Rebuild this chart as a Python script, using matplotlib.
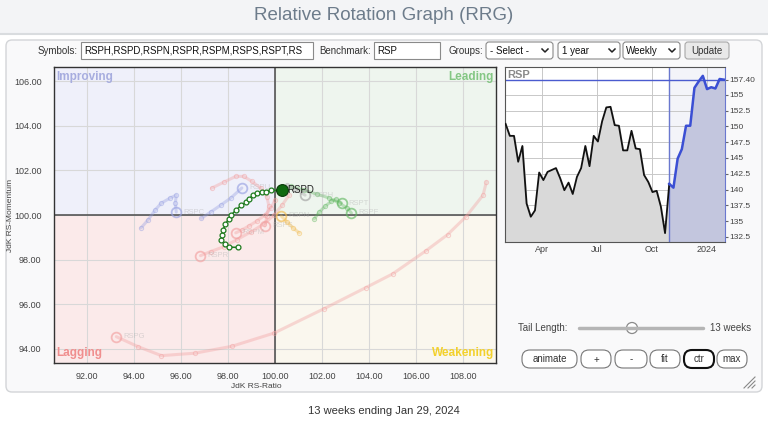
import matplotlib
matplotlib.use("Agg")
import matplotlib.pyplot as plt
import matplotlib.patches as mpatches
import numpy as np
import pandas as pd

plt.rcParams['font.family'] = ['Liberation Sans', 'DejaVu Sans']

# ---- data ----
# highlighted tail (RSPD), oldest -> newest
rspd_x = [98.42, 98.06, 97.86, 97.72, 97.74, 97.79, 97.89, 98.03, 98.13, 98.34,
          98.57, 98.75, 98.89, 99.07, 99.24, 99.43, 99.60, 99.82, 100.29]
rspd_y = [98.55, 98.56, 98.71, 98.89, 99.11, 99.33, 99.59, 99.82, 99.99, 100.22,
          100.43, 100.56, 100.70, 100.90, 100.98, 101.01, 101.05, 101.10, 101.10]

# faded tails of the other symbols
rspg_x = [108.99, 108.85, 108.12, 107.34, 106.41, 105.00, 103.85, 102.10, 99.96, 98.17, 96.60, 95.17, 94.18, 93.25]
rspg_y = [101.48, 100.89, 99.92, 99.12, 98.39, 97.36, 96.74, 95.81, 94.71, 94.12, 93.81, 93.70, 94.10, 94.55]
rspc_x = [94.30, 94.60, 94.90, 95.16, 95.54, 95.80, 95.76, 95.80]
rspc_y = [99.42, 99.78, 100.22, 100.53, 100.76, 100.89, 100.53, 100.13]
rspu_x = [96.87, 97.26, 97.69, 98.12, 98.59]
rspu_y = [99.85, 100.13, 100.44, 100.76, 101.21]
rsps_x = [97.30, 97.82, 98.33, 98.67, 99.01, 99.40, 99.66, 99.74, 99.66, 99.57]
rsps_y = [101.20, 101.47, 101.73, 101.73, 101.51, 101.20, 100.80, 100.40, 99.96, 99.51]
rspm_x = [100.00, 99.83, 99.57, 99.23, 98.89, 98.59, 98.33]
rspm_y = [100.67, 100.31, 100.00, 99.73, 99.51, 99.33, 99.20]
rspr_x = [100.60, 100.30, 99.96, 99.53, 98.97, 98.37, 97.82, 97.26, 96.83]
rspr_y = [100.89, 100.44, 100.00, 99.60, 99.24, 98.89, 98.58, 98.36, 98.18]
rspn_x = [101.03, 100.77, 100.51, 100.26]
rspn_y = [99.20, 99.42, 99.69, 99.96]
rspt_x = [101.67, 101.88, 102.14, 102.40, 102.61, 102.83]
rspt_y = [99.82, 100.13, 100.40, 100.62, 100.71, 100.53]
rspf_x = [100.69, 101.24, 101.80, 102.31, 102.74, 103.08, 103.25]
rspf_y = [101.29, 101.11, 100.93, 100.76, 100.53, 100.31, 100.09]
rsph_x = [100.51, 100.86, 101.28]
rsph_y = [101.33, 101.16, 100.89]

# benchmark RSP weekly closes
rsp_start = "2023-01-30"
rsp_close = [150.4, 148.5, 148.5, 144.4, 146.9, 137.8, 135.7, 136.7, 142.7, 141.5,
             142.8, 143.1, 143.4, 141.8, 139.9, 141.1, 139.3, 142.0, 143.4, 146.9,
             143.7, 148.5, 147.6, 150.8, 153.0, 153.1, 150.2, 150.1, 146.2, 146.2,
             149.3, 146.5, 146.4, 142.3, 141.2, 139.6, 139.8, 137.3, 133.1, 140.9,
             140.3, 144.9, 146.4, 150.1, 150.1, 156.1, 157.1, 158.0, 155.9, 156.2,
             156.0, 157.5, 157.4]
tail_weeks = 13
last_close_label = "157.40"

x_ticks = [92, 94, 96, 98, 100, 102, 104, 106, 108]
y_ticks = [94, 96, 98, 100, 102, 104, 106]
price_ticks = [132.5, 135, 137.5, 140, 142.5, 145, 147.5, 150, 152.5, 155]

# ---- figure ----
W, H = 768, 423
fig = plt.figure(figsize=(W / 100, H / 100), dpi=100)
fig.patch.set_facecolor('white')

bg = fig.add_axes([0, 0, 1, 1], zorder=0)
bg.set_xlim(0, W)
bg.set_ylim(H, 0)
bg.axis('off')

# header + panel
bg.add_patch(mpatches.Rectangle((0, 0), W, 34, facecolor='#f3f4f6', edgecolor='none'))
bg.plot([0, W], [34, 34], color='#d9dcdf', lw=1.5)
bg.add_patch(mpatches.FancyBboxPatch((6, 40), W - 12, 352, boxstyle="round,pad=0,rounding_size=6",
                                     facecolor='#f9f9fa', edgecolor='#d3d5d8', lw=1))
bg.text(384, 15, "Relative Rotation Graph (RRG)", ha='center', va='center',
        fontsize=13.5, color='#6d7c8b')

# controls row
def box(x0, x1, face='white', edge='#8a8a8a', round_=False, y0=42, h=17, lw=0.8):
    if round_:
        bg.add_patch(mpatches.FancyBboxPatch((x0, y0), x1 - x0, h, boxstyle="round,pad=0,rounding_size=3",
                                             facecolor=face, edgecolor=edge, lw=lw))
    else:
        bg.add_patch(mpatches.Rectangle((x0, y0), x1 - x0, h, facecolor=face, edgecolor=edge, lw=lw))

def chevron(xc, yc):
    bg.plot([xc - 3, xc, xc + 3], [yc - 1.5, yc + 1.5, yc - 1.5], color='#222', lw=1.1)

row_y = 50.5
bg.text(78, row_y, "Symbols:", ha='right', va='center', fontsize=7, color='#333')
box(81, 313)
bg.text(84, row_y, "RSPH,RSPD,RSPN,RSPR,RSPM,RSPS,RSPT,RS", ha='left', va='center', fontsize=7, color='#111')
bg.text(371, row_y, "Benchmark:", ha='right', va='center', fontsize=7, color='#333')
box(374, 440)
bg.text(377, row_y, "RSP", ha='left', va='center', fontsize=7, color='#111')
bg.text(483, row_y, "Groups:", ha='right', va='center', fontsize=7, color='#333')
box(486, 553, round_=True)
bg.text(490, row_y, "- Select -", ha='left', va='center', fontsize=7, color='#111')
chevron(545, row_y)
box(558, 620, round_=True)
bg.text(562, row_y, "1 year", ha='left', va='center', fontsize=7, color='#111')
chevron(612, row_y)
box(623, 680, round_=True)
bg.text(626, row_y, "Weekly", ha='left', va='center', fontsize=7, color='#111')
chevron(672, row_y)
box(685, 729, face='#e9e9e9', edge='#a8a8a8', round_=True)
bg.text(707, row_y, "Update", ha='center', va='center', fontsize=7, color='#333')

# tail length slider and buttons
bg.text(518, 328, "Tail Length:", ha='left', va='center', fontsize=7, color='#444')
bg.plot([579, 703], [328, 328], color='#b5b5b5', lw=2.5, solid_capstyle='round')
bg.add_patch(mpatches.Ellipse((632, 328), 11, 11, facecolor='white', edgecolor='#8a8a8a', lw=0.9))
bg.text(751, 328, f"{tail_weeks} weeks", ha='right', va='center', fontsize=7, color='#444')

buttons = [("animate", 522, 577), ("+", 581, 611), ("-", 615, 647),
           ("fit", 650, 680), ("ctr", 684, 714), ("max", 717, 747)]
for lbl, x0, x1 in buttons:
    bold = lbl == "ctr"
    bg.add_patch(mpatches.FancyBboxPatch((x0, 350), x1 - x0, 18, boxstyle="round,pad=0,rounding_size=8",
                                         facecolor='white', edgecolor='#111' if bold else '#777',
                                         lw=1.5 if bold else 0.8))
    bg.text((x0 + x1) / 2, 359.5, lbl, ha='center', va='center', fontsize=7, color='#333')

# resize grip
for d in (0, 4, 8):
    bg.plot([752 - d, 755], [388, 385 - d], color='#888', lw=0.8)

bg.text(384, 411, "13 weeks ending Jan 29, 2024", ha='center', va='center', fontsize=8, color='#333')

# ---- main RRG axes ----
ax = fig.add_axes([54 / W, 1 - 363 / H, 442 / W, 296 / H], zorder=2)
xlo, xhi = 90.6, 109.4
ylo, yhi = 93.37, 106.63
ax.set_xlim(xlo, xhi)
ax.set_ylim(ylo, yhi)

ax.add_patch(mpatches.Rectangle((xlo - 1, 100), 100 - xlo + 1, yhi - 99, facecolor='#eff0fa', edgecolor='none', zorder=0))
ax.add_patch(mpatches.Rectangle((100, 100), xhi - 99, yhi - 99, facecolor='#eef5ee', edgecolor='none', zorder=0))
ax.add_patch(mpatches.Rectangle((xlo - 1, ylo - 1), 100 - xlo + 1, 100 - ylo + 1, facecolor='#fbeaea', edgecolor='none', zorder=0))
ax.add_patch(mpatches.Rectangle((100, ylo - 1), xhi - 99, 100 - ylo + 1, facecolor='#faf7ee', edgecolor='none', zorder=0))

for xv in x_ticks:
    ax.axvline(xv, color='#d8d8d8', lw=0.8, zorder=1)
for yv in y_ticks:
    ax.axhline(yv, color='#d8d8d8', lw=0.8, zorder=1)
ax.axhline(100, color='#555', lw=1.2, zorder=2)
ax.axvline(100, color='#555', lw=1.2, zorder=2)

ax.text(0.005, 0.985, "Improving", transform=ax.transAxes, ha='left', va='top', fontsize=8.5,
        fontweight='bold', color='#a7addf', zorder=3)
ax.text(0.995, 0.985, "Leading", transform=ax.transAxes, ha='right', va='top', fontsize=8.5,
        fontweight='bold', color='#84c784', zorder=3)
ax.text(0.005, 0.015, "Lagging", transform=ax.transAxes, ha='left', va='bottom', fontsize=8.5,
        fontweight='bold', color='#f08e8e', zorder=3)
ax.text(0.995, 0.015, "Weakening", transform=ax.transAxes, ha='right', va='bottom', fontsize=8.5,
        fontweight='bold', color='#f3d12c', zorder=3)

faded = [
    (rspg_x, rspg_y, '#f2a0a0', "RSPG"),
    (rspc_x, rspc_y, '#97a0e2', "RSPC"),
    (rspu_x, rspu_y, '#97a0e2', "RSPU"),
    (rsps_x, rsps_y, '#f2a0a0', "RSPS"),
    (rspm_x, rspm_y, '#f2a0a0', "RSPM"),
    (rspr_x, rspr_y, '#f2a0a0', "RSPR"),
    (rspn_x, rspn_y, '#f2b94a', "RSPN"),
    (rspt_x, rspt_y, '#62b862', "RSPT"),
    (rspf_x, rspf_y, '#62b862', "RSPF"),
    (rsph_x, rsph_y, '#a0a0a0', "RSPH"),
]
for tx, ty, c, name in faded:
    ax.plot(tx, ty, color=c, lw=2.2, alpha=0.38, solid_capstyle='round', zorder=3)
    ax.plot(tx[:-1], ty[:-1], 'o', ms=3, mfc='none', mec=c, mew=0.8, alpha=0.45, zorder=3)
    ax.plot(tx[-1], ty[-1], 'o', ms=7, mfc='none', mec=c, mew=1.3, alpha=0.65, zorder=3)
    ax.text(tx[-1] + 0.3, ty[-1], name, ha='left', va='center', fontsize=5.5, color='#b0b0b0',
            alpha=0.45, zorder=3)

ax.plot(rspd_x, rspd_y, color='#1d7a1d', lw=1.1, zorder=5)
ax.plot(rspd_x[:-1], rspd_y[:-1], 'o', ms=3.5, mfc='white', mec='#1d7a1d', mew=0.9, zorder=6)
ax.plot(rspd_x[-1], rspd_y[-1], 'o', ms=8.5, mfc='#0f6a0f', mec='#0a3a0a', mew=0.8, zorder=7)
ax.text(rspd_x[-1] + 0.25, rspd_y[-1], "RSPD", ha='left', va='center', fontsize=7, color='#222', zorder=7)

ax.set_xticks(x_ticks)
ax.set_xticklabels([f"{v:.2f}" for v in x_ticks])
ax.set_yticks(y_ticks)
ax.set_yticklabels([f"{v:.2f}" for v in y_ticks])
ax.tick_params(length=0, labelsize=6.5, labelcolor='#444')
ax.tick_params(axis='x', pad=6.5)
ax.tick_params(axis='y', pad=9)
for s in ax.spines.values():
    s.set_color('#333')
    s.set_linewidth(1)
bg.text(256, 386, "JdK RS-Ratio", ha='center', va='center', fontsize=6, color='#444')
bg.text(11, 215, "JdK RS-Momentum", ha='center', va='center', rotation=90, fontsize=6, color='#444')

# ---- benchmark panel ----
ax2 = fig.add_axes([505 / W, 1 - 242 / H, 220 / W, 175 / H], zorder=2)
dates = pd.date_range(rsp_start, periods=len(rsp_close), freq="7D")
close = np.array(rsp_close)
split = len(close) - tail_weeks - 1
ax2.set_facecolor('white')
ax2.set_xlim(dates[0] - pd.Timedelta(days=1), dates[-1] + pd.Timedelta(days=2))
ax2.set_ylim(131.7, 159.4)

ax2.fill_between(dates[:split + 1], close[:split + 1], 120, color='#d9d9d9', zorder=1)
ax2.fill_between(dates[split:], close[split:], 120, color='#c3c6de', zorder=1)
ax2.axvspan(dates[split], dates[-1] + pd.Timedelta(days=2), color='#dfe1ef', alpha=0.35, zorder=0)
ax2.plot(dates[:split + 1], close[:split + 1], color='#111', lw=1.3, zorder=3)
ax2.plot(dates[split:], close[split:], color='#3b4fd4', lw=1.8, zorder=3)
ax2.axvline(dates[split], color='#6a78cf', lw=1, zorder=2)
ax2.axhline(close[-1], color='#4a5bcf', lw=1, zorder=2)

month_ticks = pd.to_datetime(["2023-04-01", "2023-07-01", "2023-10-01", "2024-01-01"])
ax2.set_xticks(month_ticks)
ax2.set_xticklabels(["Apr", "Jul", "Oct", "2024"])
ax2.set_yticks(price_ticks + [close[-1]])
ax2.set_yticklabels([f"{v:g}" for v in price_ticks] + [last_close_label])
ax2.get_yticklabels()[-1].set_color('#4a5bcf')
ax2.yaxis.tick_right()
ax2.grid(True, color='#c8c8c8', lw=0.7, zorder=0)
ax2.set_axisbelow(True)
ax2.tick_params(axis='y', length=2, labelsize=6, labelcolor='#444', pad=1, color='#666')
ax2.tick_params(axis='x', length=0, labelsize=6.5, labelcolor='#444', pad=2)
for s in ax2.spines.values():
    s.set_color('#555')
ax2.spines['right'].set_color('#6a78cf')
ax2.text(0.01, 0.985, "RSP", transform=ax2.transAxes, ha='left', va='top', fontsize=8,
         fontweight='bold', color='#8a8a8a', zorder=4)

fig.savefig("out.png", dpi=100)
